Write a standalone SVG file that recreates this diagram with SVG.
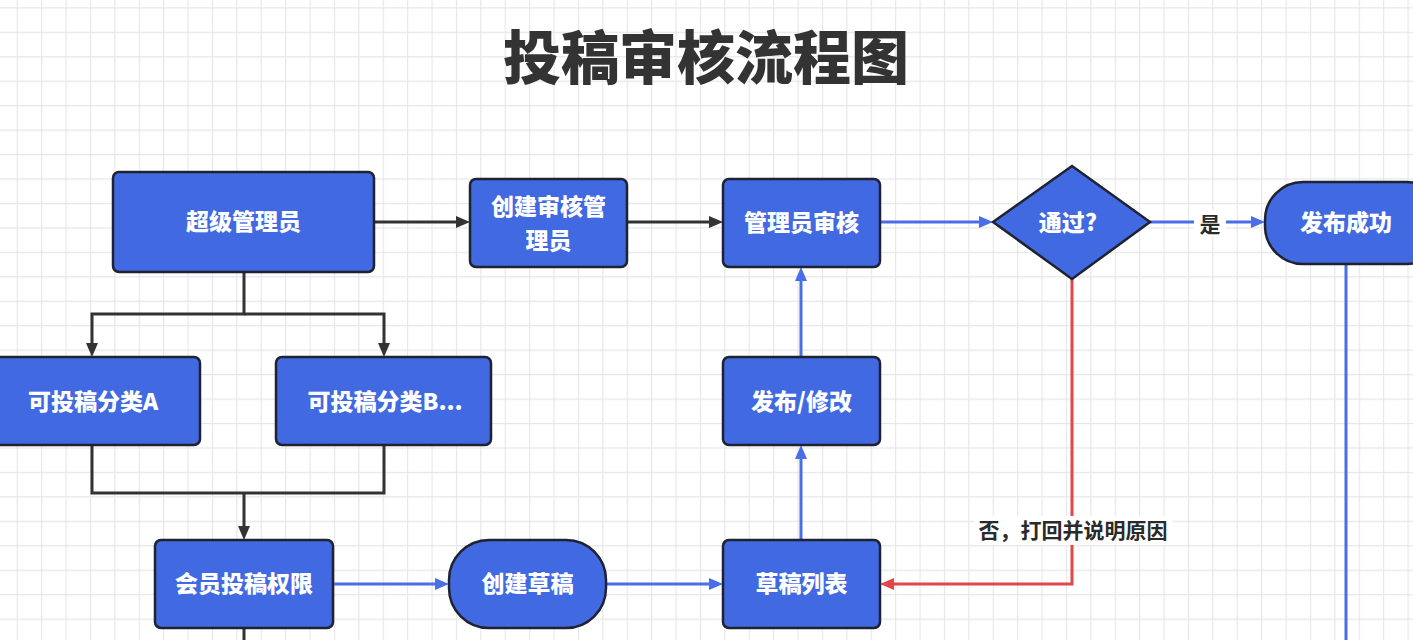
<svg xmlns="http://www.w3.org/2000/svg" width="1413" height="640" viewBox="0 0 1413 640">
<style>
.node{fill:#4169e1;stroke:#1f2230;stroke-width:2.5}
.nt{fill:#ffffff;font-family:"Noto Sans CJK SC","Noto Sans",sans-serif;font-weight:900;font-size:23px;text-anchor:middle;dominant-baseline:central}
.lbl{fill:#2a2a2a;font-family:"Noto Sans CJK SC","Noto Sans",sans-serif;font-weight:700;font-size:21px;text-anchor:middle;dominant-baseline:central}
.dk{fill:none;stroke:#333333;stroke-width:3}
.bl{fill:none;stroke:#4a6ee6;stroke-width:3}
.rd{fill:none;stroke:#e0474a;stroke-width:3}
</style>
<defs>
<pattern id="grid" patternUnits="userSpaceOnUse" x="16.7" y="7.3" width="24.4" height="24.45">
<path d="M0.5,0 V24.45 M0,0.5 H24.4" fill="none" stroke="#e6e6e6" stroke-width="1.3"/>
</pattern>
<marker id="adk" markerUnits="userSpaceOnUse" markerWidth="16" markerHeight="14" refX="4" refY="6" orient="auto"><path d="M0,0 L14,6 L0,12 z" fill="#333333"/></marker>
<marker id="abl" markerUnits="userSpaceOnUse" markerWidth="16" markerHeight="14" refX="4" refY="6" orient="auto"><path d="M0,0 L14,6 L0,12 z" fill="#4a6ee6"/></marker>
<marker id="ard" markerUnits="userSpaceOnUse" markerWidth="16" markerHeight="14" refX="4" refY="6" orient="auto"><path d="M0,0 L14,6 L0,12 z" fill="#e0474a"/></marker>
</defs>
<rect width="1413" height="640" fill="#ffffff"/>
<rect width="1413" height="640" fill="url(#grid)"/>
<text x="706" y="54" fill="#333333" font-family="'Noto Sans CJK SC','Noto Sans',sans-serif" font-weight="900" font-size="58" text-anchor="middle" dominant-baseline="central">投稿审核流程图</text>

<g id="connectors">
<path class="dk" d="M374,222 H460" marker-end="url(#adk)"/>
<path class="dk" d="M627,222 H713" marker-end="url(#adk)"/>
<path class="bl" d="M880,222 H983" marker-end="url(#abl)"/>
<path class="bl" d="M1150,222 H1255" marker-end="url(#abl)"/>
<path class="dk" d="M244,272 V314 H92 V347" marker-end="url(#adk)"/>
<path class="dk" d="M244,314 H384 V347" marker-end="url(#adk)"/>
<path class="dk" d="M92,445 V493 H384 V445 M244,493 V530" marker-end="url(#adk)"/>
<path class="dk" d="M244,628 V640"/>
<path class="bl" d="M333,584 H439" marker-end="url(#abl)"/>
<path class="bl" d="M606,584 H713" marker-end="url(#abl)"/>
<path class="bl" d="M801,540 V455" marker-end="url(#abl)"/>
<path class="bl" d="M801,357 V277" marker-end="url(#abl)"/>
<path class="rd" d="M1072,279 V584 H890" marker-end="url(#ard)"/>
<path class="bl" d="M1346,264 V640"/>
<rect x="1194" y="210" width="32" height="26" fill="#ffffff"/>
<text class="lbl" x="1210" y="223">是</text>
<rect x="974" y="516" width="198" height="29" fill="#ffffff"/>
<text class="lbl" x="1073" y="529">否，打回并说明原因</text>
</g>

<g id="n-super"><rect class="node" x="113" y="172" width="261" height="100" rx="6"/><text class="nt" x="243.5" y="220" font-size="26">超级管理员</text></g>
<g id="n-create-admin"><rect class="node" x="470" y="179" width="157" height="88" rx="6"/><text class="nt" x="548.5" y="205" font-size="20">创建审核管</text><text class="nt" x="548.5" y="239" font-size="20">理员</text></g>
<g id="n-admin-review"><rect class="node" x="723" y="179" width="157" height="88" rx="6"/><text class="nt" x="801.5" y="221">管理员审核</text></g>
<g id="n-pass"><polygon class="node" points="1072,166 1150,222 1072,279 993,222"/><text class="nt" x="1068" y="221">通过?</text></g>
<g id="n-publish-ok"><rect class="node" x="1265" y="182" width="180" height="82" rx="38"/><text class="nt" x="1346" y="221">发布成功</text></g>
<g id="n-cat-a"><rect class="node" x="-14" y="357" width="214" height="88" rx="6"/><text class="nt" x="93" y="400">可投稿分类A</text></g>
<g id="n-cat-b"><rect class="node" x="276" y="357" width="215" height="88" rx="6"/><text class="nt" x="385" y="400">可投稿分类B...</text></g>
<g id="n-member"><rect class="node" x="155" y="540" width="178" height="88" rx="6"/><text class="nt" x="244" y="582">会员投稿权限</text></g>
<g id="n-draft"><rect class="node" x="449" y="540" width="157" height="88" rx="40"/><text class="nt" x="527.5" y="582">创建草稿</text></g>
<g id="n-draft-list"><rect class="node" x="723" y="540" width="157" height="88" rx="6"/><text class="nt" x="801.5" y="582">草稿列表</text></g>
<g id="n-edit"><rect class="node" x="723" y="357" width="157" height="88" rx="6"/><text class="nt" x="801.5" y="400">发布/修改</text></g>
</svg>
